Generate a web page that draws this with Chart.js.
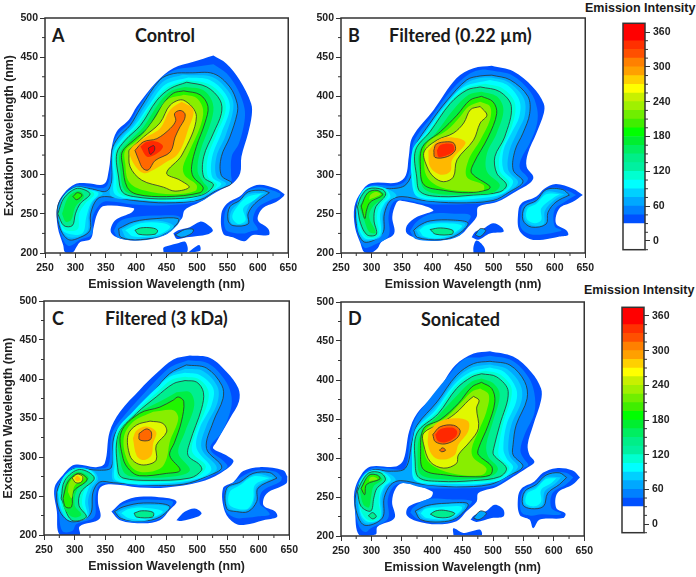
<!DOCTYPE html>
<html>
<head>
<meta charset="utf-8">
<title>Excitation-emission maps</title>
<script src="https://cdn.jsdelivr.net/npm/chart.js@4"></script>
<style>
  html, body { margin: 0; padding: 0; background: #fff; }
  #page { position: relative; width: 696px; height: 577px; overflow: hidden; }
  canvas { position: absolute; }
  .lbl { position: absolute; white-space: nowrap; transform: translateY(-50%); color: #1a1a1a; font-weight: 700; }
  .let { font: 700 18px Lato, sans-serif; }
  .ttl { font: 700 18px Lato, sans-serif; }
  .cbt { font: 700 12.5px "Liberation Sans", sans-serif; }
</style>
</head>
<body>
<div id="page">
  <div class="lbl let" style="left:52px;top:35px">A</div>
  <div class="lbl ttl" style="left:135px;top:35px">Control</div>
  <div class="lbl let" style="left:348px;top:35px">B</div>
  <div class="lbl ttl" style="left:389px;top:35px">Filtered (0.22 µm)</div>
  <div class="lbl let" style="left:52px;top:318px">C</div>
  <div class="lbl ttl" style="left:105px;top:318px">Filtered (3 kDa)</div>
  <div class="lbl let" style="left:348px;top:318px">D</div>
  <div class="lbl ttl" style="left:421px;top:319px">Sonicated</div>
  <div class="lbl cbt" style="left:585px;top:8px">Emission Intensity</div>
  <div class="lbl cbt" style="left:584px;top:290px">Emission Intensity</div>
</div>
<script>
// axis ticks
const xTicks = [250,300,350,400,450,500,550,600,650];
const yTicks = [200,250,300,350,400,450,500];
const xMinor = [275,325,375,425,475,525,575,625];
const yMinor = [225,275,325,375,425,475];
const barTicks = [0,60,120,180,240,300,360];
const barMinor = [-15,15,30,45,75,90,105,135,150,165,195,210,225,255,270,285,315,330,345];

// colour bar bands
const barEdges = [-15,30,45,60,75,90,105,120,135,150,165,180,195,210,225,240,255,270,285,300,315,330,345,375];
const barColors = ['#ffffff','#0050ff','#0080ff','#00a8ff','#00d0ff','#00ffff','#00ffd0','#00f0a0','#00ee88','#00ee60','#00ee30','#00ff00','#40ee00','#70ee00','#a0f000','#c8f000','#ffff00','#ffd000','#ffa000','#ff8000','#ff5000','#ff3000','#ff0000'];

// fill colour of the region above each contour level
const contourLevels = [30,45,60,75,90,105,120,150,180,210,240,270,300,330,360];
const contourColors = ['#0050ff','#0080ff','#00a8ff','#00d0ff','#00ffff','#00ffd0','#00ee90','#00ee45','#20f500','#88ee00','#e0f800','#ffb800','#ff6800','#ff2800','#ff0000'];

// ---- panel A contours, flat x,y pairs (emission nm, excitation nm) ----
const A30 = [527,452,548,442,570,421,589,391,590,376,584,353,573,323,571,302,559,289,532,278,505,265,480,255,475,244,458,231,450,224,423,219,396,216,368,220,358,228,366,242,393,252,396,257,347,260,336,250,330,233,325,218,308,214,302,208,296,201,283,201,280,210,271,233,270,259,281,276,300,288,319,289,347,288,355,306,360,336,368,355,388,370,401,387,434,419,461,436,494,444];
const A30isl = [461,225,467,218,483,220,518,224,526,229,516,237,505,240,488,233,469,229];
const A30right = [644,275,630,282,603,287,584,282,570,272,549,263,540,250,543,225,559,220,578,215,592,223,618,223,617,231,600,242,608,257,630,265,642,272];
const A30low = [445,201,483,201,481,214,467,212,456,210,445,207];
const A30spot = [486,201,505,203,504,210,494,206];
const A45 = [527,441,549,429,568,407,578,385,578,368,569,340,557,323,556,300,556,291,532,279,505,266,450,261,396,262,350,266,338,260,328,245,327,224,308,217,289,209,278,220,271,245,274,266,290,280,300,286,322,285,349,284,357,300,360,333,369,351,389,366,404,386,436,420,461,433,492,437];
const A45low = [363,228,371,219,407,216,445,222,467,235,472,246,440,248,396,246,372,240];
const A45right = [637,276,620,281,603,284,584,280,570,270,552,261,545,248,547,230,559,226,578,225,590,228,600,230,592,242,600,258,622,268,636,272];
const A60 = [488,430,527,429,554,412,566,391,566,378,554,348,540,323,540,299,557,289,532,280,505,268,450,264,396,267,352,272,336,269,325,250,324,229,308,220,289,217,275,231,270,255,279,272,300,284,325,282,351,279,360,293,360,331,371,348,390,363,407,385,439,421,461,429];
const A60low = [371,231,375,220,407,217,442,223,467,237,469,244,434,244,396,240];
const A60isl = [464,223,475,220,491,225,494,230,480,230];
const A60right = [619,277,608,280,584,278,570,267,554,259,551,242,559,235,584,237,584,250,595,263];
const A75 = [487,427,524,425,550,408,560,388,547,350,532,323,532,298,548,288,525,278,490,266,396,268,358,273,361,295,361,330,374,347,394,363,415,388,443,418,474,427];
const A75left = [272,250,278,229,289,220,310,222,321,230,322,250,331,268,345,276,325,281,300,284,280,272];
const A75low = [376,230,385,219,420,219,440,222,462,234,440,241,400,239];
const A75right = [612,277,584,275,569,264,556,253,555,240,563,236,582,239,581,252,590,265];
const A90 = [486,424,521,421,546,404,554,385,540,353,525,323,525,297,540,288,518,277,477,267,396,269,365,275,363,297,363,329,377,346,398,363,423,391,448,415];
const A90left = [273,245,281,227,311,225,318,246,325,263,338,276,325,280,300,283,279,270];
const A90low = [382,229,396,221,434,223,456,233,445,238,407,238];
const A90right = [606,276,584,272,568,261,558,246,568,237,580,242,576,257,595,268];
const A105 = [484,421,518,416,542,400,547,382,533,353,518,323,518,297,533,287,513,275,450,267,396,270,371,277,367,297,365,328,380,345,402,363,428,393,452,412];
const A105left = [272,248,281,231,296,228,305,232,306,250,316,263,331,275,320,281,300,283,280,270];
const A120 = [483,418,516,412,538,395,540,378,527,353,511,323,511,297,527,287,508,274,450,269,396,272,377,278,371,297,368,327,382,344,407,363,434,395,456,410];
const A120left = [271,250,281,235,295,235,300,250,308,263,324,275,314,281,300,282,281,270];
const A120low = [398,229,404,224,431,224,435,229,426,232,407,232];
const A150 = [480,412,510,408,526,391,524,370,505,329,501,304,510,291,518,282,505,274,450,271,398,274,380,281,374,304,373,327,390,344,412,361,439,393,458,407];
const A150left = [278,250,284,240,293,242,300,259,314,272,306,279,289,272];
const A180 = [478,407,505,402,518,387,513,366,499,336,491,310,494,297,510,284,505,277,450,272,401,275,385,284,378,310,377,329,396,344,418,359,445,391,461,404];
const A180left = [296,272,302,268,311,274,303,277];
const A210 = [478,402,499,398,510,383,505,361,488,331,477,310,480,299,499,287,497,279,461,275,412,280,388,291,382,314,382,331,404,346,431,372,450,395];
const A240 = [388,331,390,310,409,293,445,284,464,279,487,284,472,293,450,302,475,325,499,374,478,395,456,389,439,366,412,348];
const A270 = [475,393,494,383,486,359,469,327,445,314,428,306,412,302,396,314,390,331,412,346,439,359,456,383];
const A300 = [398,331,404,319,411,308,420,306,431,318,456,329,464,348,472,361,479,370,480,378,472,382,463,378,465,369,456,359,434,346,412,342];
const A330 = [407,336,418,323,434,327,444,336,434,342,418,342];
const A360 = [420,334,423,326,430,331,429,337];
const panelA = [[30,A30],[30,A30isl],[30,A30right],[30,A30low],[30,A30spot],[45,A45],[45,A45low],[45,A45right],[60,A60],[60,A60low],[60,A60isl],[60,A60right],[75,A75],[75,A75left],[75,A75low],[75,A75right],[90,A90],[90,A90left],[90,A90low],[90,A90right],[105,A105],[105,A105left],[120,A120],[120,A120left],[120,A120low],[150,A150],[150,A150left],[180,A180],[180,A180left],[210,A210],[240,A240],[270,A270],[300,A300],[330,A330],[360,A360]];

// ---- panel B ----
const B30 = [497,439,532,432,564,412,582,391,582,378,570,353,556,327,554,310,565,297,559,289,535,278,505,265,475,259,472,246,458,233,445,223,412,216,380,218,358,225,358,235,374,246,401,255,347,267,340,263,334,246,337,225,316,214,310,206,299,200,288,201,282,212,273,233,272,259,283,278,299,289,342,290,356,299,361,323,367,348,402,383,439,423,467,436];
const B30isl = [464,220,475,217,494,225,516,227,513,233,499,238,483,231,470,227];
const B30right = [646,274,630,282,602,288,583,282,570,272,545,263,540,250,542,229,559,218,581,217,608,221,622,223,619,229,602,238,608,257,629,265];
const B30low = [467,200,485,200,484,208,472,216,467,208];
const B45 = [497,433,530,427,560,406,571,385,571,365,559,340,545,320,543,308,556,296,553,290,530,278,502,266,440,262,386,263,352,268,336,265,328,248,328,222,303,210,288,207,278,225,274,248,279,268,293,283,304,287,338,286,356,293,365,316,369,342,399,375,432,409,461,429,480,434];
const B45low = [363,228,372,218,413,216,444,222,455,236,462,248,436,250,398,250,374,240];
const B45right = [635,274,622,279,600,284,583,279,570,269,548,261,544,248,545,232,560,224,583,224,605,227,611,229,600,234,600,255,618,266];
const B60 = [497,427,527,421,556,400,559,378,548,353,535,331,532,306,548,291,526,278,499,267,440,264,386,267,350,272,331,267,321,250,318,225,288,214,275,238,276,261,288,276,302,284,329,282,356,287,369,310,372,336,396,366,424,395,456,421,478,426];
const B60low = [369,229,375,220,413,217,440,223,458,238,434,242,396,241,378,235];
const B60isl = [470,223,478,221,487,229,478,231];
const B60right = [624,274,613,281,586,281,570,267,551,259,548,242,562,233,586,237,589,252,602,265];
const B75 = [496,424,524,418,549,398,551,376,538,353,526,331,524,306,540,290,520,277,490,268,420,266,380,269,368,280,366,310,370,334,392,360,421,390,454,416,476,423];
const B75left = [275,247,279,225,291,216,316,222,318,250,326,265,341,273,325,282,298,284,284,274];
const B75low = [373,229,381,221,413,218,437,224,453,237,424,240,392,238,382,234];
const B75right = [616,275,600,278,586,278,570,265,553,258,551,243,564,235,582,237,584,254,600,268];
const B90 = [494,421,521,415,542,395,542,374,529,353,516,331,516,306,532,291,515,276,467,269,413,268,375,272,367,287,367,331,388,353,418,385,451,412];
const B90left = [275,255,280,229,291,218,314,223,314,250,321,263,331,272,321,283,293,284,280,272];
const B90low = [378,229,386,221,413,219,434,225,448,235,413,238,389,235];
const B90right = [608,275,586,275,570,263,556,257,554,244,567,238,578,242,578,257,597,270];
const B105 = [486,416,515,410,535,391,530,362,511,328,510,305,526,289,512,277,467,272,413,270,378,275,370,290,369,331,392,354,423,388,454,410];
const B105left = [276,257,281,234,292,220,311,222,309,247,314,261,327,273,320,282,294,283,281,272];
const B120 = [478,412,510,406,529,387,518,348,502,323,505,302,521,287,510,278,467,274,413,272,380,278,374,297,372,331,396,355,429,391,456,408];
const B120left = [277,259,282,238,293,223,308,224,304,242,307,259,323,274,318,281,295,282,283,272];
const B120low = [396,230,405,224,432,224,433,229,413,232];
const B150 = [480,406,505,400,516,383,505,353,489,327,489,304,510,287,499,277,461,275,413,275,386,282,379,302,379,331,405,353,434,383,459,402];
const B150left = [280,259,288,242,296,227,307,226,296,246,302,259,322,274,307,279,291,272];
const B180 = [480,400,499,393,505,378,491,348,467,314,464,302,494,285,491,281,459,277,418,280,386,287,380,310,384,336,413,355,440,376,461,395];
const B180left = [283,260,289,244,292,255,298,265,318,274,309,280,294,277];
const B210 = [478,393,494,387,494,370,478,344,459,319,456,297,483,287,483,280,451,279,413,284,391,297,386,319,391,340,424,357,445,374,459,387];
const B210left = [296,268,315,275,307,278,298,274];
const B240 = [478,387,489,376,478,366,467,344,440,319,434,297,418,291,402,297,391,310,386,329,407,344,434,353,451,366,462,383];
const B270 = [393,331,396,310,413,300,429,304,432,319,454,340,445,346,413,346];
const B300 = [402,331,404,322,424,323,437,331,435,340,424,342,406,339];
const B330 = [407,331,410,323,424,325,435,331,432,339,413,338];
const panelB = [[30,B30],[30,B30isl],[30,B30right],[30,B30low],[45,B45],[45,B45low],[45,B45right],[60,B60],[60,B60low],[60,B60isl],[60,B60right],[75,B75],[75,B75left],[75,B75low],[75,B75right],[90,B90],[90,B90left],[90,B90low],[90,B90right],[105,B105],[105,B105left],[120,B120],[120,B120left],[120,B120low],[150,B150],[150,B150left],[180,B180],[180,B180left],[210,B210],[210,B210left],[240,B240],[270,B270],[300,B300],[330,B330]];

// ---- panel C ----
const C30 = [488,430,521,427,548,409,567,388,568,371,553,349,531,319,526,311,548,302,559,294,537,279,504,268,450,261,406,261,357,265,341,260,338,243,341,221,308,211,308,200,276,200,271,230,267,260,281,277,300,290,335,287,349,292,357,332,374,358,406,386,433,407,461,425];
const C30low = [360,230,374,219,412,215,439,219,455,232,466,243,444,248,406,249,379,243];
const C30isl = [466,219,474,218,499,223,507,228,496,234,480,230];
const C30right = [647,275,640,283,602,287,575,282,559,268,542,260,545,230,561,215,578,213,608,219,630,223,627,230,608,238,613,253,645,266];
const C45 = [485,424,518,420,544,400,555,381,555,362,540,332,521,311,544,294,549,287,526,277,490,266,430,262,360,266,341,264,334,249,332,223,303,214,296,205,280,205,274,230,269,257,283,276,300,287,338,285,355,289,361,330,384,356,417,385,444,407,458,416];
const C45low = [363,230,375,220,412,216,439,221,455,234,460,243,440,245,406,245,380,240];
const C45right = [638,274,628,281,596,283,573,275,553,264,545,258,546,232,562,222,580,222,600,224,618,226,612,233,602,240,606,256,636,269];
const C60 = [482,418,515,414,540,392,542,375,526,345,515,311,540,287,515,275,477,265,423,264,363,267,341,268,330,255,325,226,295,217,276,230,271,255,284,275,300,285,341,283,360,287,365,328,393,354,428,383,455,407];
const C60low = [365,230,376,221,412,218,439,223,455,237,412,241,379,236];
const C60right = [630,273,618,280,591,279,570,268,548,260,548,234,564,230,583,230,597,243,599,260];
const C75 = [481,413,510,410,533,390,533,370,515,340,507,311,532,286,510,274,458,265,365,269,362,288,367,330,394,356,430,385,455,405];
const C75left = [272,255,277,232,294,218,322,224,322,245,328,260,338,272,330,282,300,285,282,274];
const C75low = [370,229,383,220,414,218,441,226,453,236,412,238,383,234];
const C75right = [624,273,605,278,591,277,570,266,550,258,550,236,572,231,588,236,594,250,597,262];
const C90 = [480,408,504,405,526,388,523,366,504,337,499,311,523,285,504,273,439,266,368,270,365,290,368,332,395,358,433,388,455,403];
const C90left = [273,255,278,234,292,219,320,222,317,243,325,264,335,273,325,283,300,285,281,273];
const C90low = [376,228,390,221,417,220,444,230,412,235,387,233];
const C90right = [618,273,591,275,570,264,553,255,553,238,580,233,591,245,594,264];
const C105 = [480,403,502,400,518,385,515,364,496,328,492,306,514,288,496,273,430,268,373,272,368,285,369,330,398,357,433,382,458,399];
const C105left = [275,251,287,221,320,222,312,240,317,259,334,273,315,284,300,285,282,272];
const C120 = [480,398,499,396,510,383,507,362,488,319,485,302,504,290,507,283,488,273,423,270,379,273,371,281,371,328,401,356,433,377,461,394];
const C120left = [278,247,295,219,319,223,307,238,310,255,332,273,308,284,284,270];
const C120low = [397,228,401,223,427,223,428,229,409,231];
const C150 = [466,383,488,383,495,366,480,332,469,305,488,283,461,275,406,274,382,279,374,298,372,330,404,356,439,371];
const C150left = [281,251,282,236,297,223,311,226,300,238,304,258,323,273,304,281,286,268];
const C180 = [461,373,469,377,478,371,474,345,463,319,455,302,472,283,450,279,406,276,390,283,379,298,376,332,406,356,439,364];
const C180left = [281,247,285,236,295,236,298,256,318,268,320,273,306,279,289,268];
const C210 = [428,358,461,360,469,349,455,319,450,298,439,285,406,281,387,294,380,324,395,345];
const C210left = [289,255,295,247,300,263,316,273,306,278,292,268];
const C240 = [423,346,444,343,450,332,433,315,433,296,417,290,401,292,390,302,387,328,401,341];
const C240left = [296,273,302,267,311,268,313,275,304,278];
const C270 = [395,324,401,302,412,296,425,302,428,317,433,332,417,339,401,334];
const C270left = [300,272,304,269,310,271,304,276];
const C300 = [405,330,406,322,423,322,425,332,417,336];
const panelC = [[30,C30],[30,C30low],[30,C30isl],[30,C30right],[45,C45],[45,C45low],[45,C45right],[60,C60],[60,C60low],[60,C60right],[75,C75],[75,C75left],[75,C75low],[75,C75right],[90,C90],[90,C90left],[90,C90low],[90,C90right],[105,C105],[105,C105left],[120,C120],[120,C120left],[120,C120low],[150,C150],[150,C150left],[180,C180],[180,C180left],[210,C210],[210,C210left],[240,C240],[240,C240left],[270,C270],[270,C270left],[300,C300]];

// ---- panel D ----
const D30 = [495,437,533,430,563,410,579,389,579,374,566,342,557,317,560,304,568,295,555,287,533,276,506,263,476,255,473,244,457,232,440,219,408,215,375,219,358,227,362,238,397,249,400,257,353,268,340,261,334,244,338,223,310,212,307,202,280,201,273,232,272,257,283,278,299,289,340,289,353,298,362,334,375,357,408,385,438,419,468,434];
const D30isl = [463,221,473,218,498,223,517,225,517,234,503,240,489,232,470,227];
const D30right = [643,275,631,284,604,287,582,281,568,270,547,261,541,249,544,227,560,221,566,210,577,221,615,223,619,229,604,236,606,255,631,266];
const D30low = [435,201,481,201,479,208,465,206,451,204,435,210];
const D45 = [495,431,531,425,558,404,568,383,568,358,552,330,545,310,550,300,558,291,550,287,528,276,500,264,440,261,386,262,352,268,336,263,327,247,327,222,299,210,290,205,280,212,273,234,274,258,285,277,301,287,335,286,355,287,364,328,372,350,392,372,423,402,453,427,478,429];
const D45low = [364,230,375,222,410,216,438,221,456,236,465,245,425,247,392,247,368,236];
const D45right = [632,275,620,281,596,282,584,278,569,268,550,259,545,245,547,230,562,226,580,228,608,227,612,229,596,236,598,255,620,266];
const D60 = [495,424,528,419,552,398,556,376,538,342,533,317,533,304,549,289,522,276,495,266,440,263,386,266,348,271,332,266,321,249,318,223,288,214,274,236,276,259,288,276,304,285,329,283,356,287,367,321,375,342,408,372,440,406,468,421];
const D60low = [372,232,381,221,413,218,440,223,459,241,424,242,391,239];
const D60isl = [468,223,477,221,489,229,479,232];
const D60right = [621,275,609,281,587,278,571,266,552,257,549,240,563,235,583,238,590,255,609,266];
const D75 = [495,420,523,414,545,394,547,374,530,342,525,315,528,302,541,288,514,273,470,265,400,265,375,270,368,281,369,320,373,338,406,366,438,400,465,416];
const D75left = [277,247,281,227,292,216,316,223,317,249,324,264,340,272,323,282,300,284,282,270];
const D75low = [376,230,386,222,413,220,435,223,454,239,424,241,391,237];
const D75right = [612,275,596,276,587,275,571,263,554,256,551,241,565,236,581,240,585,257,602,267];
const D90 = [495,416,519,410,538,389,538,372,522,342,517,312,522,300,533,287,506,270,413,267,372,271,367,291,372,334,405,361,435,393,462,410];
const D90left = [280,249,283,227,296,218,314,223,314,249,321,263,332,272,318,282,296,283,280,268];
const D90low = [381,229,391,223,430,223,449,237,413,237,389,235];
const D90right = [604,274,587,273,571,261,557,255,554,242,568,238,579,244,579,259,596,268];
const D105 = [488,412,512,407,531,387,516,342,509,312,510,302,527,287,508,273,468,269,413,268,375,273,369,293,373,333,407,359,437,391,463,407];
const D105left = [278,253,283,232,296,220,314,224,312,245,316,262,327,272,316,282,296,282,281,268];
const D120 = [481,408,506,404,525,385,511,342,501,312,501,304,522,287,511,276,468,271,413,270,378,275,372,295,375,332,410,357,440,389,465,404];
const D120left = [277,257,283,238,299,232,304,249,309,261,323,272,315,281,296,281,283,268];
const D120foot = [295,226,302,222,308,225,302,230];
const D120low = [397,228,408,224,427,224,437,229,419,233,405,232];
const D150 = [481,402,500,396,511,381,500,347,489,317,492,302,508,287,500,278,462,273,413,273,381,279,376,300,381,330,413,357,443,382,465,398];
const D150left = [281,257,287,240,296,237,300,253,304,264,318,272,310,278,296,276,285,266];
const D180 = [481,397,498,389,503,372,492,342,476,312,476,304,498,289,495,278,462,276,424,278,386,285,381,308,386,338,413,349,443,370,465,391];
const D180left = [283,261,289,253,292,266,314,273,310,278,296,278];
const D210 = [479,389,493,381,489,359,476,334,465,312,468,300,489,287,484,279,451,278,413,285,391,298,386,321,391,338,424,353,451,374,465,385];
const D210left = [296,270,310,273,304,276,298,275];
const D240 = [468,379,477,374,473,364,476,338,462,321,443,304,440,293,419,287,397,295,386,317,386,332,413,344,438,357,460,374];
const D270 = [394,334,393,317,402,302,419,298,437,304,443,317,459,334,459,347,438,351,413,347];
const D300 = [401,330,405,321,421,318,440,325,446,335,435,342,413,340];
const D300dot = [412,310,416,308,422,310,417,313];
const D330 = [405,330,409,322,421,320,438,327,441,334,433,339,413,337];
const panelD = [[30,D30],[30,D30isl],[30,D30right],[30,D30low],[45,D45],[45,D45low],[45,D45right],[60,D60],[60,D60low],[60,D60isl],[60,D60right],[75,D75],[75,D75left],[75,D75low],[75,D75right],[90,D90],[90,D90left],[90,D90low],[90,D90right],[105,D105],[105,D105left],[120,D120],[120,D120left],[120,D120foot],[120,D120low],[150,D150],[150,D150left],[180,D180],[180,D180left],[210,D210],[210,D210left],[240,D240],[270,D270],[300,D300],[300,D300dot],[330,D330]];

const INK = '#222';
const FONT = '"Liberation Sans", Arial, sans-serif';

// frame round the plot and the small unlabelled ticks
const framePlugin = {
  id: 'frame',
  afterDraw(chart, args, opts) {
    const ctx = chart.ctx, a = chart.chartArea;
    ctx.save();
    ctx.strokeStyle = '#333';
    ctx.lineWidth = 1;
    const tick = (sx, sy, ex, ey) => { ctx.beginPath(); ctx.moveTo(sx, sy); ctx.lineTo(ex, ey); ctx.stroke(); };
    (opts.xMinor || []).forEach(v => { const p = chart.scales.x.getPixelForValue(v); tick(p, a.bottom, p, a.bottom + 3); });
    (opts.yMinor || []).forEach(v => { const p = chart.scales.y.getPixelForValue(v); tick(a.left, p, a.left - 3, p); });
    (opts.rMinor || []).forEach(v => { const p = chart.scales.y.getPixelForValue(v); tick(a.right, p, a.right + 3, p); });
    ctx.lineWidth = 1.5;
    ctx.strokeRect(a.left, a.top, a.right - a.left, a.bottom - a.top);
    ctx.restore();
  }
};

function addCanvas(left, top, w, h) {
  const c = document.createElement('canvas');
  c.width = w; c.height = h;
  c.style.left = left + 'px'; c.style.top = top + 'px';
  c.style.width = w + 'px'; c.style.height = h + 'px';
  document.getElementById('page').appendChild(c);
  return c;
}

function toPts(flat) {
  const pts = [];
  for (let i = 0; i < flat.length; i += 2) pts.push({ x: flat[i], y: flat[i + 1] });
  pts.push({ x: flat[0], y: flat[1] });
  return pts;
}

function contourSets(panel) {
  // dataset 0 is drawn last, so the highest level goes first
  return panel.slice().reverse().map(([level, flat]) => ({
    data: toPts(flat),
    showLine: true,
    fill: 'shape',
    tension: 0.35,
    pointRadius: 0,
    backgroundColor: contourColors[contourLevels.indexOf(level)],
    borderColor: 'rgba(45,50,50,0.8)',
    borderWidth: level % 60 === 0 ? 1 : 0
  }));
}

function drawPanel(panel, box, showYTitle) {
  const canvasLeft = box.l - 45, canvasTop = box.t - 18;
  const w = box.r - canvasLeft + 12, h = box.b - canvasTop + 40;
  new Chart(addCanvas(canvasLeft, canvasTop, w, h), {
    type: 'scatter',
    data: { datasets: contourSets(panel) },
    plugins: [framePlugin],
    options: {
      responsive: false,
      animation: false,
      layout: { autoPadding: false, padding: { left: 0, top: 18, right: 12, bottom: 0 } },
      plugins: { legend: { display: false }, tooltip: { enabled: false }, frame: { xMinor, yMinor } },
      scales: {
        x: {
          type: 'linear', min: 250, max: 650,
          afterFit: s => { s.height = 40; },
          afterBuildTicks: s => { s.ticks = xTicks.map(value => ({ value })); },
          grid: { drawOnChartArea: false, tickLength: 5, color: '#333' },
          border: { display: false },
          ticks: { color: INK, padding: 4, maxRotation: 0, font: { family: FONT, size: 10.5, weight: 'bold' } },
          title: { display: true, text: 'Emission Wavelength (nm)', color: INK, padding: { top: 0, bottom: 1 }, font: { family: FONT, size: 12.3, weight: 'bold' } }
        },
        y: {
          type: 'linear', min: 200, max: 500,
          afterFit: s => { s.width = 45; },
          afterBuildTicks: s => { s.ticks = yTicks.map(value => ({ value })); },
          grid: { drawOnChartArea: false, tickLength: 5, color: '#333' },
          border: { display: false },
          ticks: { color: INK, padding: 2, font: { family: FONT, size: 10.5, weight: 'bold' } },
          title: { display: showYTitle, text: 'Excitation Wavelength (nm)', color: INK, padding: { top: 2, bottom: 0 }, font: { family: FONT, size: 12.3, weight: 'bold' } }
        }
      }
    }
  });
}

function drawColorBar(box) {
  const canvasLeft = box.l - 4, canvasTop = box.t - 4;
  const w = box.r - canvasLeft + 40, h = box.b - canvasTop + 6;
  const sets = barColors.map((c, i) => ({
    data: [[barEdges[i], barEdges[i + 1]]],
    backgroundColor: c,
    barPercentage: 1,
    categoryPercentage: 1,
    grouped: false
  }));
  new Chart(addCanvas(canvasLeft, canvasTop, w, h), {
    type: 'bar',
    data: { labels: [''], datasets: sets },
    plugins: [framePlugin],
    options: {
      responsive: false,
      animation: false,
      layout: { autoPadding: false, padding: { left: 4, top: 4, right: 0, bottom: 6 } },
      plugins: { legend: { display: false }, tooltip: { enabled: false }, frame: { rMinor: barMinor } },
      scales: {
        x: { display: false },
        y: {
          position: 'right', min: -15, max: 375,
          afterFit: s => { s.width = 40; },
          afterBuildTicks: s => { s.ticks = barTicks.map(value => ({ value })); },
          grid: { drawOnChartArea: false, tickLength: 5, color: '#333' },
          border: { display: false },
          ticks: { color: INK, padding: 3, font: { family: FONT, size: 10.5, weight: 'bold' } }
        }
      }
    }
  });
}

drawPanel(panelA, { l: 45, r: 289, t: 18, b: 253 }, true);
drawPanel(panelB, { l: 341, r: 586, t: 18, b: 253 }, false);
drawPanel(panelC, { l: 44, r: 290, t: 301, b: 535 }, true);
drawPanel(panelD, { l: 341, r: 585, t: 302, b: 536 }, false);
drawColorBar({ l: 623, r: 645, t: 18, b: 253 });
drawColorBar({ l: 622, r: 644, t: 302, b: 536 });
</script>
</body>
</html>
